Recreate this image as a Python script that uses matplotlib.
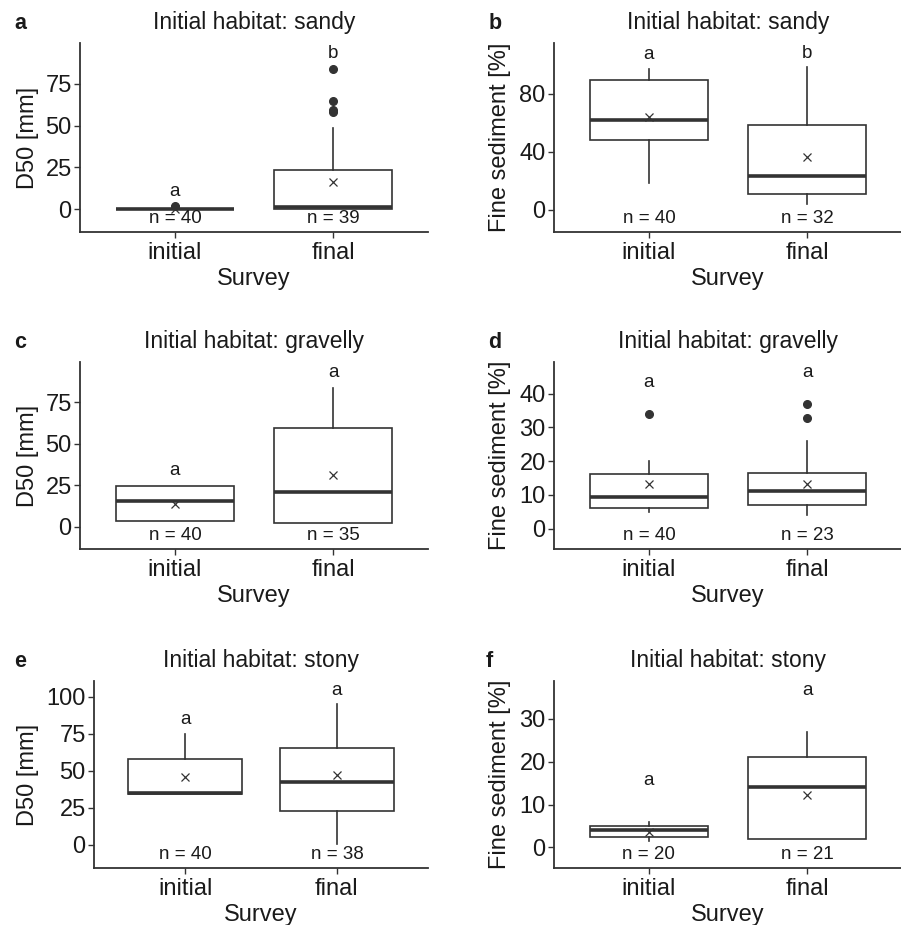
import matplotlib
matplotlib.use("Agg")
import matplotlib.pyplot as plt
import matplotlib.transforms as mtransforms

plt.rcParams['font.family'] = ['Liberation Sans', 'DejaVu Sans']

W, H = 901, 925
fig = plt.figure(figsize=(W / 100, H / 100), dpi=100)

surveys = ["initial", "final"]

# panel a: D50, sandy
a_q1 = [0.0, 0.0]
a_med = [0.0, 1.0]
a_q3 = [0.0, 23.2]
a_lo = [0.0, 0.0]
a_hi = [0.0, 48.5]
a_mean = [0.3, 16.0]
a_fliers = [[2.0], [57.9, 59.5, 64.5, 83.8]]
a_n = [40, 39]
a_sig = ["a", "b"]
a_sig_y = [10.6, 93.4]

# panel b: fine sediment, sandy
b_q1 = [48.1, 10.9]
b_med = [61.5, 23.4]
b_q3 = [89.2, 58.7]
b_lo = [18.5, 3.7]
b_hi = [97.3, 98.3]
b_mean = [63.8, 36.1]
b_fliers = [[], []]
b_n = [40, 32]
b_sig = ["a", "b"]
b_sig_y = [107.0, 107.7]

# panel c: D50, gravelly
c_q1 = [3.2, 2.2]
c_med = [15.4, 21.2]
c_q3 = [24.8, 59.5]
c_lo = [3.2, 2.2]
c_hi = [24.8, 83.8]
c_mean = [13.8, 31.5]
c_fliers = [[], []]
c_n = [40, 35]
c_sig = ["a", "a"]
c_sig_y = [33.9, 93.2]

# panel d: fine sediment, gravelly
d_q1 = [6.0, 7.0]
d_med = [9.5, 11.1]
d_q3 = [16.2, 16.4]
d_lo = [5.1, 4.1]
d_hi = [20.0, 25.9]
d_mean = [13.2, 13.4]
d_fliers = [[33.9], [32.9, 36.9]]
d_n = [40, 23]
d_sig = ["a", "a"]
d_sig_y = [43.4, 46.4]

# panel e: D50, stony
e_q1 = [34.1, 22.6]
e_med = [34.8, 42.4]
e_q3 = [58.1, 65.5]
e_lo = [34.1, 0.7]
e_hi = [75.1, 94.8]
e_mean = [45.5, 46.9]
e_fliers = [[], []]
e_n = [40, 38]
e_sig = ["a", "a"]
e_sig_y = [84.3, 104.0]

# panel f: fine sediment, stony
f_q1 = [2.4, 1.9]
f_med = [4.0, 14.0]
f_q3 = [5.1, 21.0]
f_lo = [1.6, 1.9]
f_hi = [5.9, 26.9]
f_mean = [3.6, 12.2]
f_fliers = [[], []]
f_n = [20, 21]
f_sig = ["a", "a"]
f_sig_y = [15.5, 36.5]

dark = '#333333'


def px_rect(left, right, top, bottom):
    return [left / W, 1 - bottom / H, (right - left) / W, (bottom - top) / H]


def panel(rect, letter, letter_x, title, ylabel, ylabel_x, q1, med, q3, lo, hi, mean,
          fliers, ns, sig, sig_y, ylim, yticks):
    left, right, top, bottom = rect
    ax = fig.add_axes(px_rect(left, right, top, bottom))
    stats = []
    for i in range(2):
        stats.append(dict(q1=q1[i], med=med[i], q3=q3[i], whislo=lo[i], whishi=hi[i],
                          mean=mean[i], fliers=fliers[i], label=surveys[i]))
    ax.bxp(stats, positions=[1, 2], widths=0.75, showcaps=False, showmeans=True,
           patch_artist=True,
           boxprops=dict(facecolor='white', edgecolor=dark, linewidth=1.2),
           whiskerprops=dict(color=dark, linewidth=1.2),
           medianprops=dict(color=dark, linewidth=2.6, solid_capstyle='butt'),
           meanprops=dict(marker='x', markeredgecolor=dark, markersize=6,
                          markeredgewidth=0.9),
           flierprops=dict(marker='o', markerfacecolor=dark, markeredgecolor=dark,
                           markersize=5.5))
    ax.set_xlim(0.4, 2.6)
    ax.set_ylim(*ylim)
    ax.set_yticks(yticks)
    ax.set_xticks([1, 2])
    ax.set_xticklabels(surveys)
    for s in ['top', 'right']:
        ax.spines[s].set_visible(False)
    for s in ['left', 'bottom']:
        ax.spines[s].set_color(dark)
        ax.spines[s].set_linewidth(1.3)
    ax.tick_params(axis='both', colors=dark, labelcolor='#1a1a1a', labelsize=17,
                   length=4, width=1.0, pad=2)
    ax.tick_params(axis='x', pad=3.5)
    ax.set_xlabel("Survey", fontsize=17, color='#1a1a1a', labelpad=2.5)

    trans = mtransforms.blended_transform_factory(ax.transData, ax.transAxes)
    for i in range(2):
        ax.text(i + 1, 0.07, "n = %d" % ns[i], transform=trans, ha='center',
                va='center', fontsize=13.5, color='#1a1a1a')
        ax.text(i + 1, sig_y[i], sig[i], ha='center', va='center', fontsize=13.5,
                color='#1a1a1a')

    cx = (left + right) / 2
    fig.text(cx / W, 1 - (top - 14) / H, title, ha='center', va='baseline',
             fontsize=16.5, color='#1a1a1a')
    fig.text(letter_x / W, 1 - (top - 14) / H, letter, ha='center', va='baseline',
             fontsize=15.5, fontweight='bold', color='#1a1a1a')
    fig.text(ylabel_x / W, 1 - ((top + bottom) / 2) / H, ylabel, ha='center',
             va='center', rotation=90, fontsize=17, color='#1a1a1a')
    return ax


panel((80, 428, 43, 232), "a", 20, "Initial habitat: sandy", "D50 [mm]", 28,
      a_q1, a_med, a_q3, a_lo, a_hi, a_mean, a_fliers, a_n, a_sig, a_sig_y,
      (-13.8, 99.6), [0, 25, 50, 75])
panel((554, 902, 43, 232), "b", 495, "Initial habitat: sandy", "Fine sediment [%]", 500,
      b_q1, b_med, b_q3, b_lo, b_hi, b_mean, b_fliers, b_n, b_sig, b_sig_y,
      (-15.5, 115), [0, 40, 80])
panel((80, 428, 362, 549), "c", 20, "Initial habitat: gravelly", "D50 [mm]", 28,
      c_q1, c_med, c_q3, c_lo, c_hi, c_mean, c_fliers, c_n, c_sig, c_sig_y,
      (-13.4, 99.4), [0, 25, 50, 75])
panel((554, 902, 362, 549), "d", 495, "Initial habitat: gravelly", "Fine sediment [%]", 500,
      d_q1, d_med, d_q3, d_lo, d_hi, d_mean, d_fliers, d_n, d_sig, d_sig_y,
      (-6.0, 49.4), [0, 10, 20, 30, 40])
panel((94, 428, 681, 868), "e", 20, "Initial habitat: stony", "D50 [mm]", 28,
      e_q1, e_med, e_q3, e_lo, e_hi, e_mean, e_fliers, e_n, e_sig, e_sig_y,
      (-15.5, 110.5), [0, 25, 50, 75, 100])
panel((554, 902, 681, 868), "f", 489, "Initial habitat: stony", "Fine sediment [%]", 500,
      f_q1, f_med, f_q3, f_lo, f_hi, f_mean, f_fliers, f_n, f_sig, f_sig_y,
      (-4.8, 38.8), [0, 10, 20, 30])

fig.savefig("out.png", dpi=100, facecolor='white')
